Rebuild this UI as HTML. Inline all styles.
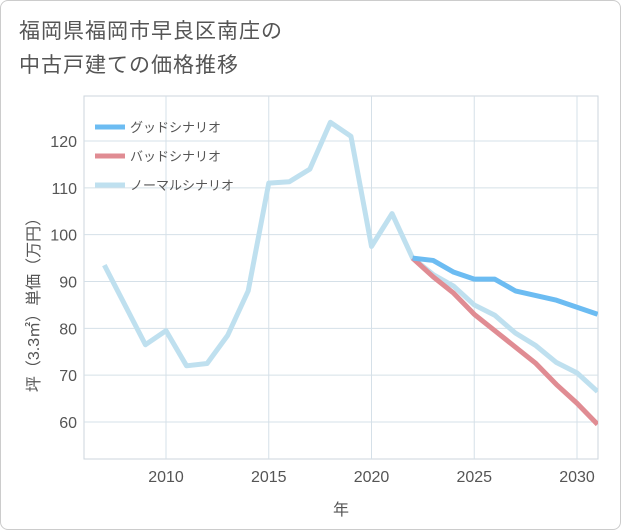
<!DOCTYPE html>
<html><head><meta charset="utf-8"><style>
body{margin:0;background:#fff;font-family:"Liberation Sans","Noto Sans CJK JP",sans-serif;}
#card{position:absolute;left:0;top:0;width:619px;height:528px;border:1px solid #ccc;border-radius:8px;background:#fff;}
#title{position:absolute;left:18px;top:14px;font-size:21px;line-height:34px;color:#555;letter-spacing:1px;}
</style></head><body>
<div id="card">
<div id="title">福岡県福岡市早良区南庄の<br>中古戸建ての価格推移</div>
<svg id="chart" width="621" height="530" style="position:absolute;left:0;top:0"></svg>
</div>
<script>
const years=[2007,2008,2009,2010,2011,2012,2013,2014,2015,2016,2017,2018,2019,2020,2021,2022,2023,2024,2025,2026,2027,2028,2029,2030,2031];
const normal=[93.5,85,76.5,79.5,72,72.5,78.5,88,111,111.3,114,124,121,97.5,104.5,95,91.5,89,85,82.8,79,76.3,72.7,70.5,66.5];
const goodYears=[2022,2023,2024,2025,2026,2027,2028,2029,2030,2031];
const good=[95,94.5,92,90.5,90.5,88,87,86,84.5,83];
const bad=[95,91,87.5,83,79.5,76,72.5,68,64,59.5];
const xTicks=[2010,2015,2020,2025,2030];
const yTicks=[60,70,80,90,100,110,120];
const L=83,R=597,T=95,B=458;
const X=y=>165+(y-2010)*20.55;
const Y=v=>421-(v-60)*4.683;
const svg=document.getElementById('chart');
const NS='http://www.w3.org/2000/svg';
function mk(t,a){const e=document.createElementNS(NS,t);for(const k in a)e.setAttribute(k,a[k]);svg.appendChild(e);return e;}
const bg=mk('rect',{x:L,y:T,width:R-L,height:B-T,fill:'#fff',stroke:'#ccd6dd'});


for(let yr=2007;yr<=2031;yr++){if(yr%5==0){const g=mk('line',{x1:X(yr),x2:X(yr),y1:T,y2:B,stroke:'#d5e0e8'});}}
yTicks.forEach(v=>{const g=mk('line',{x1:L,x2:R,y1:Y(v),y2:Y(v),stroke:'#d5e0e8'});
const t=mk('text',{x:76,y:Y(v)+6,'text-anchor':'end','font-size':16,fill:'#555'});t.textContent=v;});
xTicks.forEach(v=>{const t=mk('text',{x:X(v),y:481,'text-anchor':'middle','font-size':16,fill:'#555'});t.textContent=v;});
const xt=mk('text',{x:340,y:514,'text-anchor':'middle','font-size':16,fill:'#555'});xt.textContent='年';

const yt=mk('text',{x:0,y:0,'text-anchor':'middle','font-size':16,fill:'#555',transform:'translate(38,300) rotate(-90)'});yt.textContent='坪（3.3㎡）単価（万円）';

const clip=mk('clipPath',{id:'c'});const cr=document.createElementNS(NS,'rect');cr.setAttribute('x',L);cr.setAttribute('y',T);cr.setAttribute('width',R-L);cr.setAttribute('height',B-T);clip.appendChild(cr);
function line(xs,vs,color,name){const p=mk('polyline',{points:xs.map((x,i)=>X(x)+','+Y(vs[i])).join(' '),fill:'none',stroke:color,'stroke-width':5,'stroke-linejoin':'round','clip-path':'url(#c)'});}
line(years,normal,'#bfe0ef','normal-scenario-line');
line(goodYears,bad,'#e08c93','bad-scenario-line');
line(goodYears,good,'#6cbcf2','good-scenario-line');
const leg=[['グッドシナリオ','#6cbcf2'],['バッドシナリオ','#e08c93'],['ノーマルシナリオ','#bfe0ef']];
leg.forEach((d,i)=>{const y=126+i*29;const l=mk('line',{x1:94,x2:124,y1:y,y2:y,stroke:d[1],'stroke-width':5});
const t=mk('text',{x:129,y:y+5,'font-size':13,fill:'#555'});t.textContent=d[0];});
</script>
</body></html>
